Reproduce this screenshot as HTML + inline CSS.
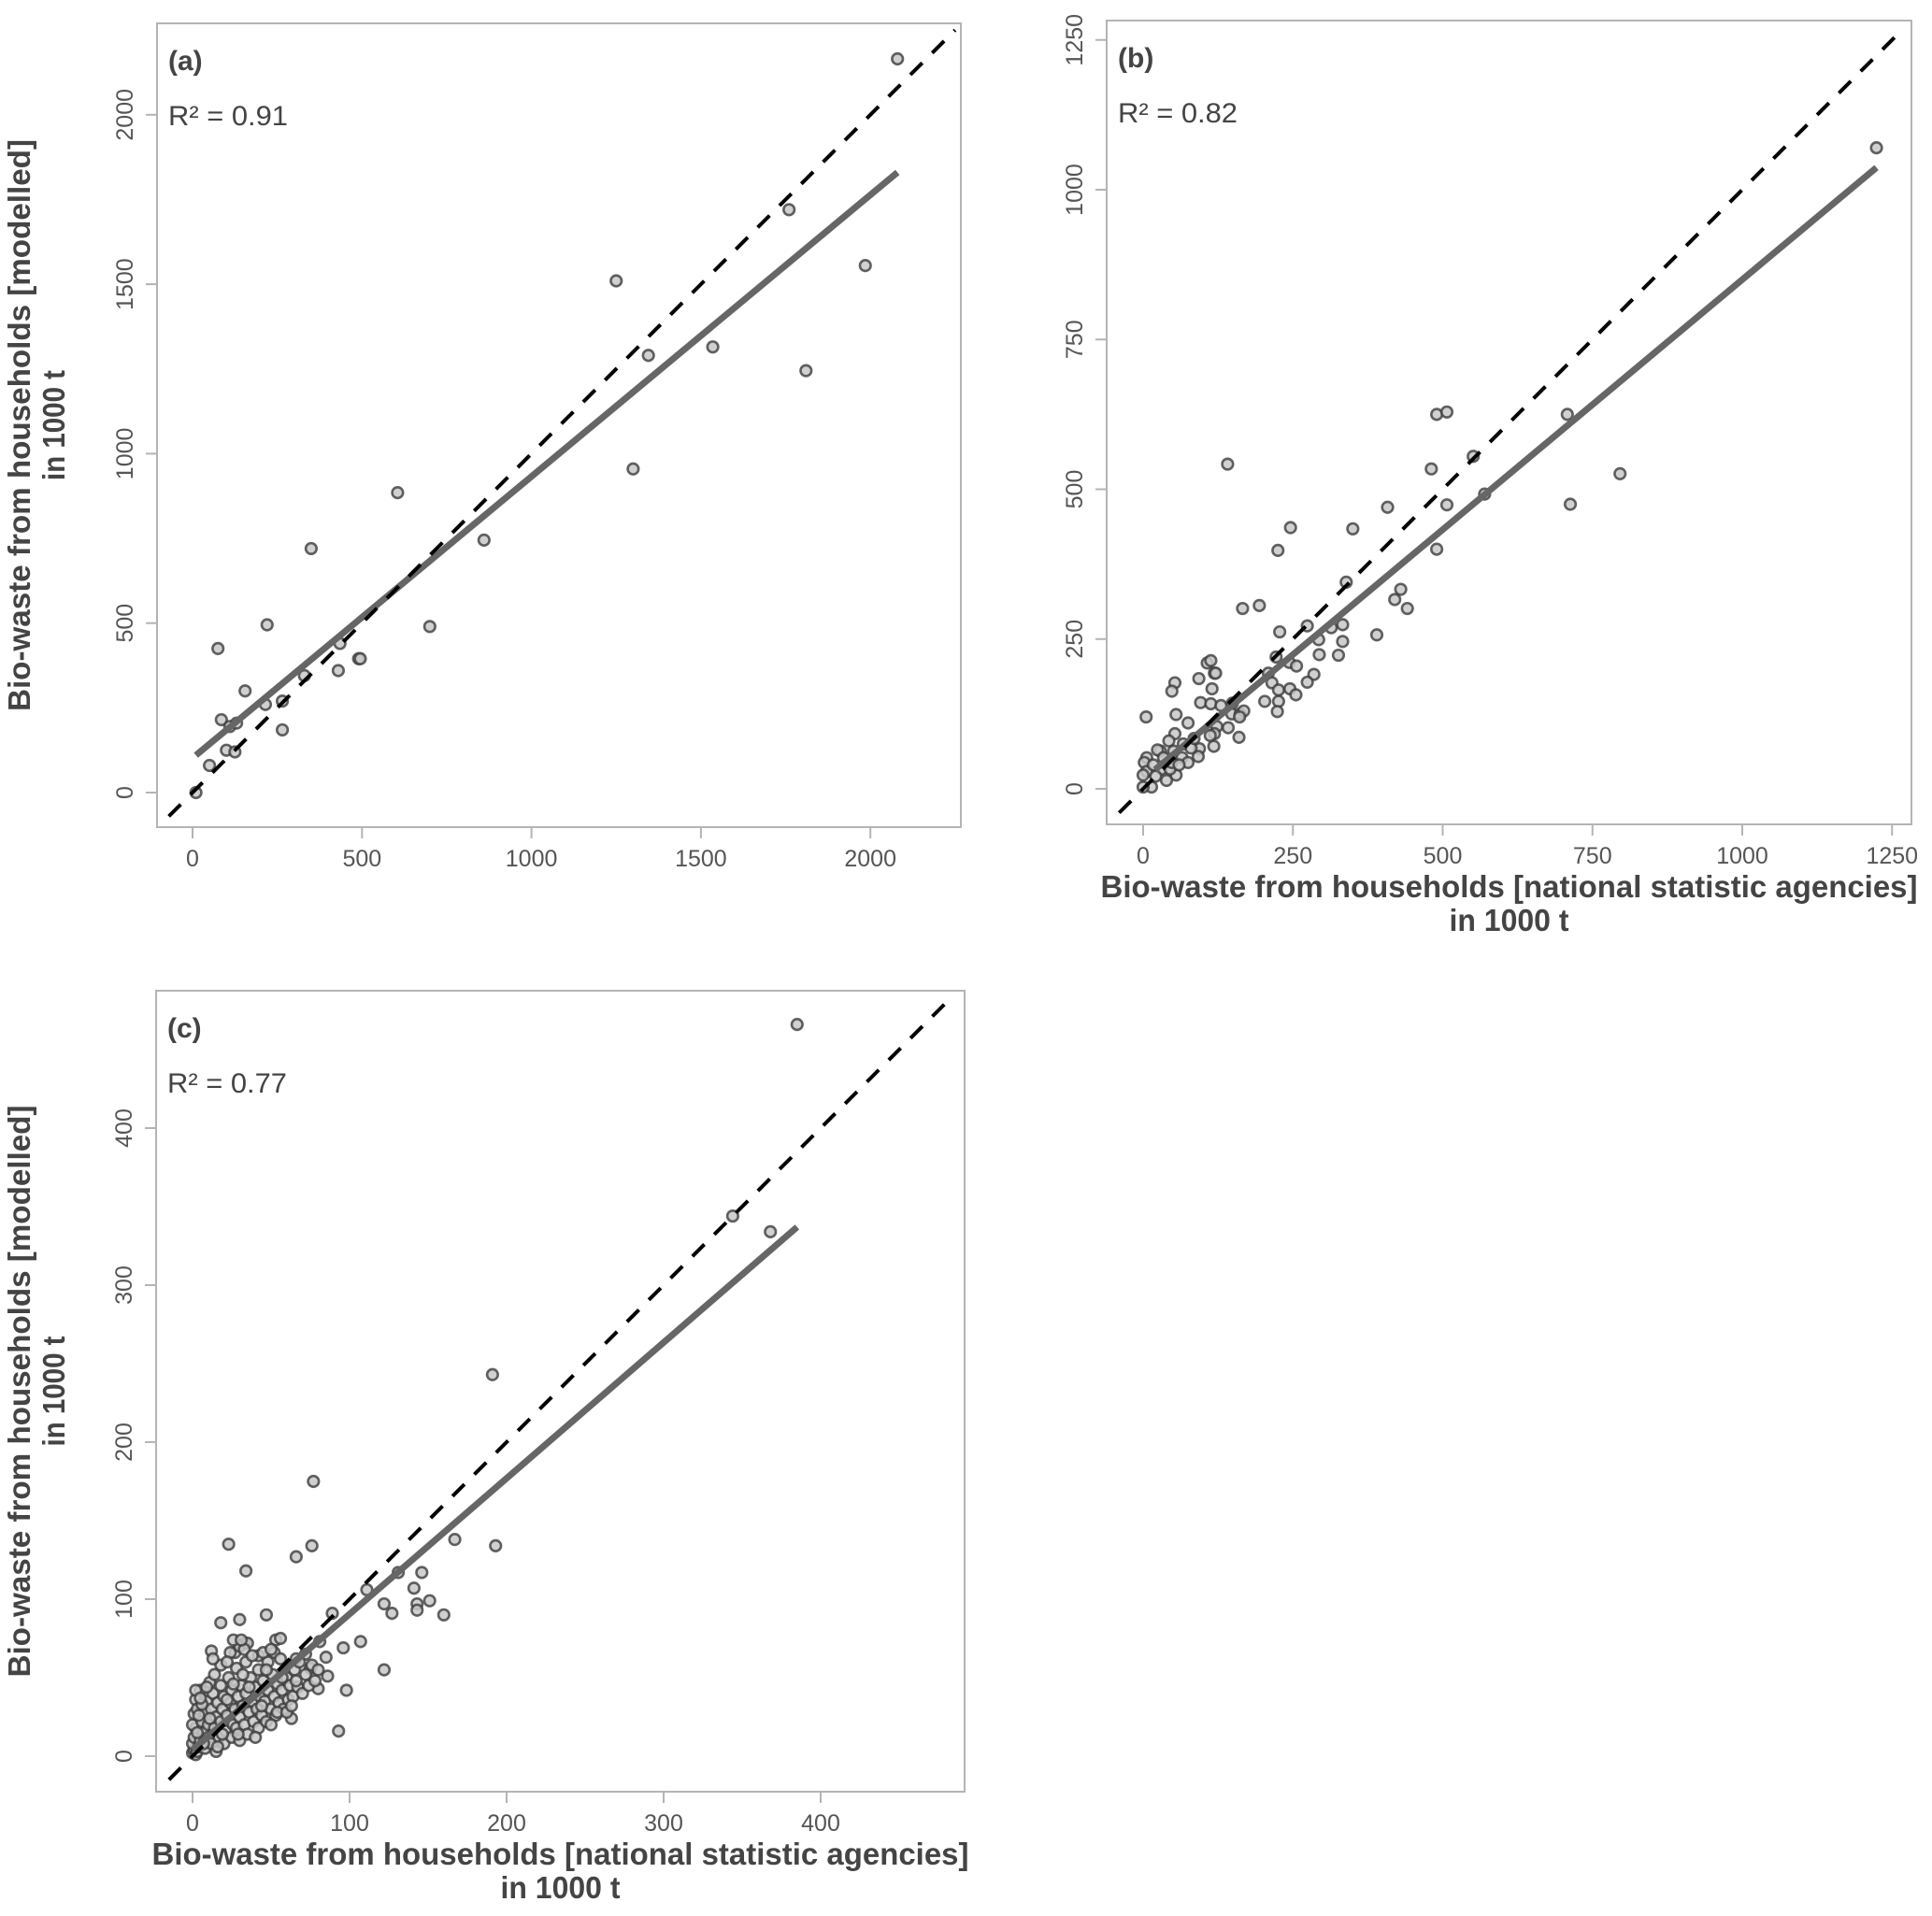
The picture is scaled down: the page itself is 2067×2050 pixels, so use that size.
<!DOCTYPE html>
<html><head><meta charset="utf-8"><style>
html,body{margin:0;padding:0;background:#fff;}
svg{display:block;font-family:"Liberation Sans",Arial,sans-serif;}
</style></head><body>
<svg id="chart" width="2067" height="2050" viewBox="0 0 2067 2050" xmlns="http://www.w3.org/2000/svg"></svg>
<script>
// ---------- Panel (a) data ----------
const aX = [10,50,75,85,100,110,125,130,155,215,220,265,265,330,350,430,435,490,495,605,700,860,1250,1300,1345,1535,1760,1810,1985,2080];
const aY = [0,80,425,215,125,195,120,205,300,260,495,270,185,345,720,360,440,395,395,885,490,745,1510,955,1290,1315,1720,1245,1555,2165];
const aXTicks = [0,500,1000,1500,2000];
const aYTicks = [0,500,1000,1500,2000];
const aFit = [10,110,2080,1830];
const aDiag = [-70,2250];

// ---------- Panel (b) data ----------
const bX = [1224,708,490,507,551,481,141,796,570,507,713,408,246,350,225,490,339,430,420,441,194,166,390,274,314,333,228,333,293,294,326,222,244,256,209,215,285,274,226,245,255,203,226,224,107,113,119,121,93,53,48,115,96,113,130,149,148,162,168,161,160,142,123,119,112,118,94,92,75,55,5,53,67,43,29,24,51,65,75,55,39,14,0,6,2,6,17,31,45,48,21,0,34,60,80,85];
const bY = [1070,625,625,629,555,534,542,526,492,474,475,470,436,434,398,400,345,333,316,301,306,301,257,272,269,274,262,246,249,224,223,220,211,205,193,177,191,178,165,167,157,146,146,129,210,214,193,193,184,177,163,167,144,142,139,143,125,125,130,120,86,102,104,92,89,71,67,54,110,124,120,92,75,80,63,65,63,52,44,23,14,3,3,52,44,29,40,33,33,44,21,23,52,40,68,84];
const bXTicks = [0,250,500,750,1000,1250];
const bYTicks = [0,250,500,750,1000,1250];
const bFit = [20,32,1224,1037];
const bDiag = [-40,1270];

// ---------- Panel (c) data ----------
const cX = [385,344,368,191,77,23,76,66,34,167,193,131,146,111,141,122,143,151,127,143,160,89,107,122,98,93,47,30,18,12,18,53,56,33,27,42,52,66,72,81,85,75,86,80,63,96,
0,1,2,0,3,1,2,4,5,0,1,2,3,5,6,7,8,8,9,10,10,11,12,12,13,14,15,15,16,17,18,18,19,20,20,21,22,23,24,25,25,26,27,28,28,29,30,30,31,32,33,34,34,35,36,37,38,39,40,41,42,42,43,44,45,46,47,48,48,50,51,52,53,54,55,56,57,58,60,61,62,64,65,67,68,70,72,74,76,78,80,4,6,9,14,3,7,11,16,19,22,26,29,32,36,40,44,47,50,54,57,60,63,66,2,5,13,24,30,35,22,33,38,45,50,26,31];
const cY = [466,344,334,243,175,135,134,127,118,138,134,117,117,106,107,97,97,99,91,93,90,91,73,55,42,16,90,87,85,67,58,74,75,72,66,64,66,62,65,73,63,56,51,43,24,69,
2,4,1,8,3,12,18,6,10,20,27,36,30,42,22,15,5,28,35,12,20,47,8,30,40,18,25,3,34,12,22,45,30,8,38,16,26,50,34,12,42,20,30,18,56,38,25,10,45,32,20,60,40,14,28,50,35,22,44,30,18,55,38,26,48,35,22,60,42,30,52,38,26,46,34,62,42,30,50,36,45,38,55,44,60,40,52,45,58,48,55,26,33,44,52,15,8,24,6,14,36,46,14,52,44,12,32,55,20,28,50,28,32,48,42,37,62,66,70,72,60,68,64,66,68,74,74];
const cXTicks = [0,100,200,300,400];
const cYTicks = [0,100,200,300,400];
const cFit = [0,4,385,337];
const cDiag = [-15,484];

const NS = "http://www.w3.org/2000/svg";
const svg = document.getElementById('chart');
function mk(tag, attrs, parent){
  const e = document.createElementNS(NS, tag);
  for (const k in attrs) e.setAttribute(k, attrs[k]);
  (parent||svg).appendChild(e);
  return e;
}

function panel(id, geo, xs, ys, xt, yt, fit, diag, label, r2, showX, showY){
  const g = mk('g', {});
  
  
  const sx = v => geo.x0 + geo.s * v;
  const sy = v => geo.y0 - geo.s * v;
  const fr = mk('rect', {x:geo.l, y:geo.t, width:geo.r-geo.l, height:geo.b-geo.t, fill:'none', stroke:'#b4b4b4', 'stroke-width':2}, g);
  
  
  xt.forEach(v => {
    const l = mk('line', {x1:sx(v), x2:sx(v), y1:geo.b, y2:geo.b+12, stroke:'#b4b4b4', 'stroke-width':2}, g);
    
    
    const t = mk('text', {x:sx(v), y:geo.b+42, 'text-anchor':'middle', 'font-size':25, fill:'#555'}, g);
    
    
    t.textContent = v;
  });
  yt.forEach(v => {
    const l = mk('line', {x1:geo.l-12, x2:geo.l, y1:sy(v), y2:sy(v), stroke:'#b4b4b4', 'stroke-width':2}, g);
    
    
    const tx = geo.l - 26;
    const t = mk('text', {x:tx, y:sy(v), 'text-anchor':'middle', 'font-size':25, fill:'#555', transform:'rotate(-90 '+tx+' '+sy(v)+')'}, g);
    
    
    t.textContent = v;
  });
  for (let i=0;i<xs.length;i++){
    const c = mk('circle', {cx:sx(xs[i]), cy:sy(ys[i]), r:5.8, fill:'rgb(200,200,200)', 'fill-opacity':0.85, stroke:'#3c3c3c', 'stroke-opacity':0.8, 'stroke-width':2.6}, g);
    
    
  }
  const rl = mk('line', {x1:sx(fit[0]), y1:sy(fit[1]), x2:sx(fit[2]), y2:sy(fit[3]), stroke:'#666', 'stroke-width':7}, g);
  
  
  const dl = mk('line', {x1:sx(diag[0]), y1:sy(diag[0]), x2:sx(diag[1]), y2:sy(diag[1]), stroke:'#000', 'stroke-width':4, 'stroke-dasharray':'18 15'}, g);
  
  
  const pl = mk('text', {x:geo.l+12, y:geo.t+50, 'font-size':30, 'font-weight':'bold', fill:'#444'}, g);
  
  
  pl.textContent = label;
  const rt = mk('text', {x:geo.l+12, y:geo.t+109, 'font-size':30, fill:'#444', textLength:128, lengthAdjust:'spacingAndGlyphs'}, g);
  
  
  rt.textContent = r2;
  const cxm = (geo.l+geo.r)/2, cym = (geo.t+geo.b)/2;
  if (showX){
    const t1 = mk('text', {x:cxm, y:geo.b+78, 'text-anchor':'middle', 'font-size':33, 'font-weight':'bold', fill:'#444', textLength:874, lengthAdjust:'spacingAndGlyphs'}, g);
    
    
    t1.textContent = 'Bio-waste from households [national statistic agencies]';
    const t2 = mk('text', {x:cxm, y:geo.b+114, 'text-anchor':'middle', 'font-size':33, 'font-weight':'bold', fill:'#444', textLength:128, lengthAdjust:'spacingAndGlyphs'}, g);
    
    
    t2.textContent = 'in 1000 t';
  }
  if (showY){
    const t1 = mk('text', {x:32, y:cym, 'text-anchor':'middle', 'font-size':33, 'font-weight':'bold', fill:'#444', textLength:612, lengthAdjust:'spacingAndGlyphs', transform:'rotate(-90 32 '+cym+')'}, g);
    
    
    t1.textContent = 'Bio-waste from households [modelled]';
    const t2 = mk('text', {x:69, y:cym, 'text-anchor':'middle', 'font-size':33, 'font-weight':'bold', fill:'#444', textLength:118, lengthAdjust:'spacingAndGlyphs', transform:'rotate(-90 69 '+cym+')'}, g);
    
    
    t2.textContent = 'in 1000 t';
  }
}

panel('a', {l:168,t:25,r:1028,b:885,x0:206,y0:848,s:0.3626}, aX, aY, aXTicks, aYTicks, aFit, aDiag, '(a)', 'R² = 0.91', false, true);
panel('b', {l:1184,t:22,r:2045,b:882,x0:1223,y0:844,s:0.641}, bX, bY, bXTicks, bYTicks, bFit, bDiag, '(b)', 'R² = 0.82', true, false);
panel('c', {l:167,t:1060,r:1032,b:1917,x0:206,y0:1879,s:1.68}, cX, cY, cXTicks, cYTicks, cFit, cDiag, '(c)', 'R² = 0.77', true, true);
</script>
</body></html>
